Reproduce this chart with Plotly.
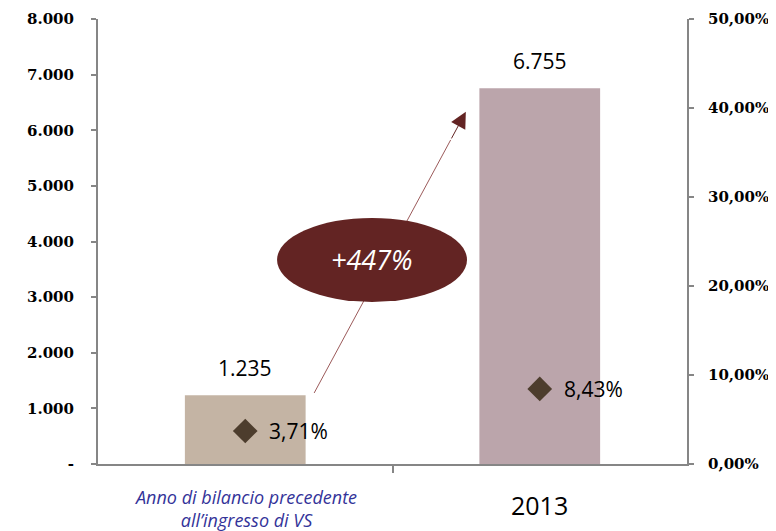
import plotly.graph_objects as go

categories = ["Anno di bilancio precedente<br>all\u2019ingresso di VS", "2013"]
bar_values = [1235, 6755]
pct_values = [3.71, 8.43]
growth_label = "+447%"
left_tickvals = [0, 1000, 2000, 3000, 4000, 5000, 6000, 7000, 8000]
left_ticktext = ["-", "1.000", "2.000", "3.000", "4.000", "5.000", "6.000", "7.000", "8.000"]
right_tickvals = [0, 10, 20, 30, 40, 50]
right_ticktext = ["0,00%", "10,00%", "20,00%", "30,00%", "40,00%", "50,00%"]

bar_colors = ["#c4b4a4", "#bba5ab"]
axis_color = "#868686"
dark_red = "#632423"

idx = list(range(len(categories)))

fig = go.Figure()
fig.add_trace(go.Bar(x=idx, y=bar_values, marker=dict(color=bar_colors, line=dict(width=0)),
                     width=0.41, showlegend=False, hoverinfo="skip"))
fig.add_trace(go.Scatter(x=idx, y=pct_values, yaxis="y2", mode="markers",
                         marker=dict(symbol="diamond", size=19, color="#4d3d2d"),
                         showlegend=False, hoverinfo="skip"))

annotations = []
for i, v in zip(idx, bar_values):
    annotations.append(dict(x=i, y=v, xref="x", yref="y", text=f"{v:,}".replace(",", "."),
                            showarrow=False, yshift=27, font=dict(family="Open Sans", size=21, color="black")))
for i, p in zip(idx, pct_values):
    annotations.append(dict(x=i, y=p, xref="x", yref="y2", text=f"{p:.2f}".replace(".", ",") + "%",
                            showarrow=False, xanchor="left", xshift=22,
                            font=dict(family="Open Sans", size=21, color="black")))
# category labels
annotations.append(dict(x=0, y=-0.042, xref="x", yref="paper", yanchor="top",
                        text="<i>" + categories[0] + "</i>", showarrow=False,
                        font=dict(family="Open Sans", size=18, color="#333399")))
annotations.append(dict(x=1, y=-0.05, xref="x", yref="paper", yanchor="top",
                        text=categories[1], showarrow=False,
                        font=dict(family="Open Sans", size=25, color="black")))
# growth label
annotations.append(dict(x=0.43, y=3670, xref="x", yref="y", text="<i>" + growth_label + "</i>",
                        showarrow=False, font=dict(family="Open Sans", size=27, color="white")))
# arrow head
annotations.append(dict(x=0.749, y=6331, ax=0.6975, ay=5826, xref="x", yref="y", axref="x", ayref="y",
                        text="", showarrow=True, arrowhead=2, arrowsize=3.2, arrowwidth=1,
                        arrowcolor=dark_red))

shapes = [
    dict(type="line", xref="x", yref="y", x0=0.234, y0=1277, x1=0.6975, y1=5826,
         line=dict(color="#9b5a5a", width=1)),
    dict(type="circle", xref="x", yref="y", x0=0.108, x1=0.753, y0=2914, y1=4424,
         fillcolor=dark_red, line=dict(width=0)),
]

fig.update_layout(
    width=776, height=531,
    margin=dict(l=90, r=97, t=11, b=75),
    paper_bgcolor="white", plot_bgcolor="white",
    annotations=annotations, shapes=shapes,
    xaxis=dict(showticklabels=False, showline=True, linecolor=axis_color, linewidth=2,
               ticks="outside", tickvals=[0.5], ticklen=7, tickcolor=axis_color, tickwidth=2,
               showgrid=False, zeroline=False, range=[-0.5, 1.5], automargin=False),
    yaxis=dict(range=[0, 8000], tickvals=left_tickvals, ticktext=left_ticktext, showline=True,
               linecolor=axis_color, linewidth=2, ticks="outside", ticklen=5, tickcolor=axis_color,
               tickwidth=2, showgrid=False, zeroline=False, ticklabelstandoff=14, automargin=False,
               tickfont=dict(family="DejaVu Serif", size=15, color="black", weight="bold")),
    yaxis2=dict(range=[0, 50], overlaying="y", side="right", tickvals=right_tickvals,
                ticktext=right_ticktext, showline=True, linecolor=axis_color, linewidth=2,
                ticks="outside", ticklen=5, tickcolor=axis_color, tickwidth=2, showgrid=False,
                zeroline=False, ticklabelstandoff=11, automargin=False,
                tickfont=dict(family="DejaVu Serif", size=15, color="black", weight="bold")),
)

fig.write_html("out.html")
